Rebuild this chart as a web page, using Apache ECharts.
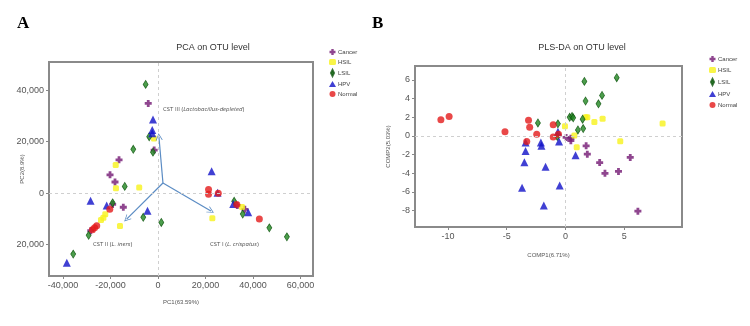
<!DOCTYPE html>
<html>
<head>
<meta charset="utf-8">
<script src="https://cdn.jsdelivr.net/npm/echarts@6/dist/echarts.min.js"></script>
<style>
    html, body { margin: 0; padding: 0; background: #fff; }
    #chart { width: 750px; height: 326px; }
</style>
</head>
<body>
<div id="chart"></div>
<script>
// groups, legend order
var groups = ['Cancer', 'HSIL', 'LSIL', 'HPV', 'Normal'];

// panel A: PCA scores [PC1, PC2]
var pcaCancer = [[-4100, 34800], [-1600, 16700], [-16400, 12900], [-20200, 7100], [-18100, 4300],
    [-19100, -4400], [-14600, -5500], [-28300, -14600], [33400, -4800], [36600, -6300]];
var pcaHSIL = [[-1700, 21200], [-17800, 10900], [-17700, 1900], [-7900, 2200], [-22200, -8200],
    [-23000, -9600], [-24000, -10500], [-16000, -12800], [22900, -9800], [35400, -5400]];
var pcaLSIL = [[-5200, 42200], [-3700, 21900], [-10400, 17000], [-2100, 15900], [-14000, 2600],
    [-19100, -3800], [-6200, -9400], [1400, -11400], [-29200, -16400], [-35700, -23700],
    [32100, -3200], [35700, -8150], [46900, -13500], [54300, -17000]];
var pcaHPV = [[-2100, 28600], [-2400, 24500], [-2400, 23200], [-28400, -3000], [-21600, -4800],
    [-4400, -6900], [-38400, -27100], [22600, 8500], [25100, 100], [31700, -4200], [38000, -7400]];
var pcaNormal = [[-20300, -6300], [-25800, -12700], [-26700, -13500], [-27600, -14200],
    [21300, 1400], [21300, -500], [25400, -100], [33200, -4400], [42700, -10100]];

// biplot arrows (origin -> tip) and their labels
var arrowOrigin = [2100, 3900];
var arrowTips = [[400, 21900], [-13200, -10100], [22300, -7000]];
var cstNames = ['CST III', 'CST II', 'CST I'];
var cstTaxa = ['Lactobacillus-depleted', 'L. iners', 'L. crispatus'];
var cstPos = [[2100, 32600], [-27400, -19800], [21900, -19800]];

// panel B: PLS-DA scores [COMP1, COMP2]
var plsCancer = [[0.05, -0.15], [0.45, -0.25], [0.45, -0.5], [1.75, -1.05], [1.85, -1.95],
    [5.5, -2.3], [2.9, -2.85], [3.35, -4.0], [4.5, -3.8], [6.15, -8.05]];
var plsHSIL = [[-0.05, 1.05], [1.7, 2.0], [1.85, 2.0], [2.45, 1.5], [3.15, 1.85], [8.25, 1.35],
    [0.75, 0.05], [4.65, -0.55], [0.95, -1.2]];
var plsLSIL = [[-2.35, 1.4], [-0.65, 1.3], [-0.7, -0.05], [1.6, 5.85], [4.35, 6.25], [1.7, 3.75],
    [3.1, 4.35], [2.8, 3.45], [0.35, 2.0], [0.55, 2.1], [0.65, 1.95], [1.45, 1.8], [1.05, 0.65], [1.5, 0.8]];
var plsHPV = [[-0.65, 0.45], [-0.55, -0.6], [-3.4, -0.7], [-3.4, -1.6], [-2.1, -0.7], [-2.05, -1.05],
    [0.85, -2.05], [-3.5, -2.8], [-1.7, -3.3], [-3.7, -5.55], [-0.5, -5.3], [-1.85, -7.45]];
var plsNormal = [[-10.6, 1.75], [-9.9, 2.1], [-5.15, 0.45], [-3.15, 1.7], [-3.05, 0.95], [-2.45, 0.2],
    [-1.05, 1.2], [-1.05, -0.1], [-0.6, 0.2], [-3.3, -0.6]];

// tick values
var pcaXTicks = [-40000, -20000, 0, 20000, 40000, 60000];
var pcaYTicks = [-20000, 0, 20000, 40000];
var plsXTicks = [-10, -5, 0, 5];
var plsYTicks = [-8, -6, -4, -2, 0, 2, 4, 6];

var plusPath = 'path://M3,0H7V3H10V7H7V10H3V7H0V3H3Z';
var diamondPath = 'path://M5,0L10,10L5,20L0,10Z';
var chevron = 'path://M0,10L5,0L10,10L8.8,10L5,2.4L1.2,10Z';

var styles = {
    Cancer: { symbol: plusPath, size: 7, color: '#731873' },
    HSIL: { symbol: 'roundRect', size: 6, color: '#f7f21a' },
    LSIL: { symbol: diamondPath, size: [5, 8], color: '#1f861f', border: '#0b520b' },
    HPV: { symbol: 'triangle', size: 8, color: '#1010c8' },
    Normal: { symbol: 'circle', size: 7, color: '#e31a1a' }
};

var pcaData = { Cancer: pcaCancer, HSIL: pcaHSIL, LSIL: pcaLSIL, HPV: pcaHPV, Normal: pcaNormal };
var plsData = { Cancer: plsCancer, HSIL: plsHSIL, LSIL: plsLSIL, HPV: plsHPV, Normal: plsNormal };

function fmt(v) {
    return Number(v).toLocaleString('en-US');
}

function makeAxis(idx, min, max, ticks, formatter, name, gap) {
    return {
        type: 'value',
        gridIndex: idx,
        min: min,
        max: max,
        name: name,
        nameLocation: 'middle',
        nameGap: gap,
        nameMoveOverlap: false,
        nameTextStyle: { fontSize: 6, color: '#555', fontFamily: 'Liberation Sans' },
        axisLine: { show: false, onZero: false },
        splitLine: { show: false },
        axisTick: { show: true, customValues: ticks, length: 3, lineStyle: { color: '#888' } },
        axisLabel: {
            customValues: ticks,
            formatter: formatter,
            fontSize: 9,
            color: '#555',
            margin: 5,
            fontFamily: 'Liberation Sans'
        }
    };
}

var series = [];
function addGroupSeries(dataMap, idx) {
    groups.forEach(function (g) {
        var s = styles[g];
        series.push({
            name: g,
            type: 'scatter',
            xAxisIndex: idx,
            yAxisIndex: idx,
            symbol: s.symbol,
            symbolSize: s.size,
            itemStyle: { color: s.color, borderColor: s.border || s.color, borderWidth: s.border ? 0.8 : 0 },
            data: dataMap[g],
            z: 3
        });
    });
}
addGroupSeries(pcaData, 0);
addGroupSeries(plsData, 1);

var zeroLine = {
    silent: true,
    symbol: 'none',
    label: { show: false },
    lineStyle: { color: '#cfcfcf', type: [3, 3], width: 1 },
    data: [{ xAxis: 0 }, { yAxis: 0 }]
};

// zero reference lines + biplot arrows and labels for panel A
series.push({
    type: 'scatter',
    xAxisIndex: 0,
    yAxisIndex: 0,
    symbolSize: 0,
    z: 2,
    data: cstPos.map(function (p, i) { return { value: p, name: cstNames[i], taxa: cstTaxa[i] }; }),
    label: {
        show: true,
        position: 'right',
        distance: 0,
        formatter: function (p) {
            return '{n|' + p.name + ' (}{i|' + p.data.taxa + '}{n|)}';
        },
        rich: {
            n: { fontSize: 6, color: '#222', fontFamily: 'Open Sans' },
            i: { fontSize: 6, color: '#222', fontStyle: 'italic', fontFamily: 'Open Sans' }
        }
    },
    markLine: {
        silent: true,
        symbol: ['none', chevron],
        symbolSize: [7, 7],
        label: { show: false },
        lineStyle: { color: '#5b8cc4', type: 'solid', width: 1.2 },
        data: arrowTips.map(function (t) { return [{ coord: arrowOrigin }, { coord: t }]; })
    }
});
series.push({
    type: 'scatter', xAxisIndex: 0, yAxisIndex: 0, data: [], z: 1, markLine: zeroLine
});
series.push({
    type: 'scatter', xAxisIndex: 1, yAxisIndex: 1, data: [], z: 1, markLine: zeroLine
});

var legendBase = {
    orient: 'vertical',
    data: groups,
    itemWidth: 7,
    itemHeight: 6,
    textStyle: { fontSize: 6, color: '#444', fontFamily: 'Liberation Sans', padding: [0, 0, 0, -3] },
    selectedMode: false,
    padding: 0
};

var chart = echarts.init(document.getElementById('chart'), null, { renderer: 'canvas' });
chart.setOption({
    backgroundColor: '#fff',
    animation: false,
    title: [
        { text: 'A', left: 12, top: 10, textStyle: { fontSize: 17, fontWeight: 'bold', fontFamily: 'Liberation Serif', color: '#000' } },
        { text: 'B', left: 367, top: 10, textStyle: { fontSize: 17, fontWeight: 'bold', fontFamily: 'Liberation Serif', color: '#000' } },
        { text: 'PCA on OTU level', left: 208, top: 38, textAlign: 'center', textStyle: { fontSize: 9, fontWeight: 'normal', fontFamily: 'Liberation Sans', color: '#333' } },
        { text: 'PLS-DA on OTU level', left: 577, top: 38, textAlign: 'center', textStyle: { fontSize: 9, fontWeight: 'normal', fontFamily: 'Liberation Sans', color: '#333' } }
    ],
    legend: [
        Object.assign({}, legendBase, { left: 329, top: 49, itemGap: 4 }),
        Object.assign({}, legendBase, { left: 709, top: 56, itemGap: 5 })
    ],
    grid: [
        { left: 49, top: 62, width: 264, height: 214, show: true, borderColor: '#8a8a8a', borderWidth: 2 },
        { left: 415, top: 66, width: 267, height: 161, show: true, borderColor: '#8a8a8a', borderWidth: 2 }
    ],
    xAxis: [
        makeAxis(0, -45900, 65300, pcaXTicks, function (v) { return fmt(v); }, 'PC1(63.59%)', 23),
        makeAxis(1, -12.8, 9.9, plsXTicks, function (v) { return String(v); }, 'COMP1(6.71%)', 25)
    ],
    yAxis: [
        makeAxis(0, -32200, 50900, pcaYTicks, function (v) { return fmt(Math.abs(v)); }, 'PC2(8.9%)', 24),
        makeAxis(1, -9.75, 7.5, plsYTicks, function (v) { return String(v); }, 'COMP2(5.03%)', 24)
    ],
    series: series
});
</script>
</body>
</html>
